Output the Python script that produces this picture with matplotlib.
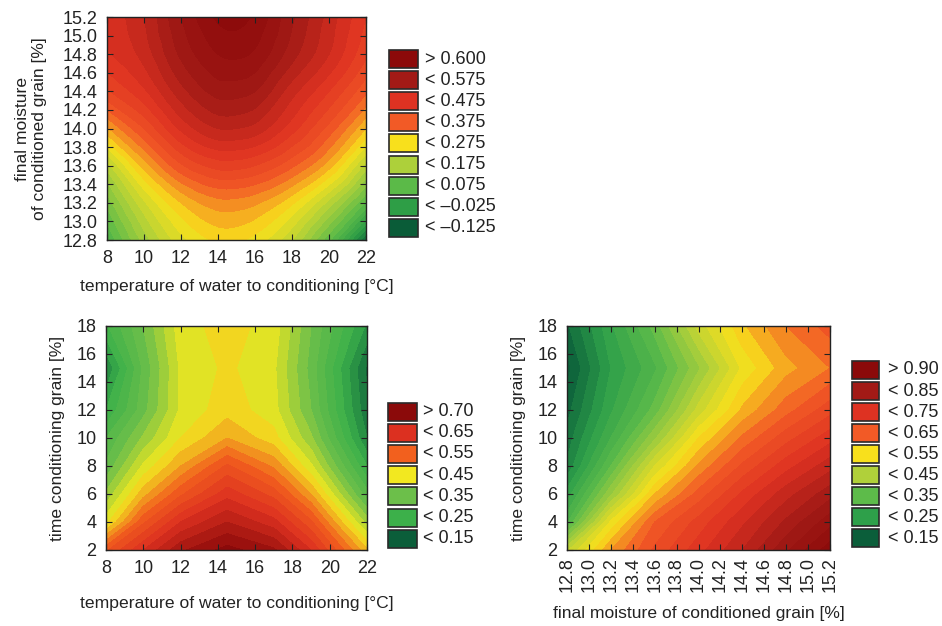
import matplotlib
matplotlib.use("Agg")
import matplotlib.pyplot as plt
import matplotlib.tri as mtri
import numpy as np
from matplotlib.colors import LinearSegmentedColormap, Normalize
from matplotlib.patches import Rectangle

plt.rcParams['font.family'] = ['Liberation Sans', 'DejaVu Sans']

# ---------------- data ----------------
# Plot 1: z(temperature, final moisture)
p1_temp = [8, 10, 12, 14, 15, 16, 18, 20, 22]
p1_moist = [12.8, 13.2, 13.6, 14.0, 14.4, 14.8, 15.2]
p1_z = [
    [0.00, 0.11, 0.19, 0.23, 0.23, 0.215, 0.15, 0.03, -0.15],
    [0.06, 0.17, 0.25, 0.29, 0.29, 0.28, 0.23, 0.14, 0.02],
    [0.14, 0.26, 0.345, 0.385, 0.385, 0.375, 0.33, 0.26, 0.14],
    [0.27, 0.35, 0.43, 0.475, 0.475, 0.465, 0.41, 0.34, 0.25],
    [0.37, 0.42, 0.49, 0.535, 0.535, 0.525, 0.46, 0.40, 0.33],
    [0.42, 0.46, 0.53, 0.575, 0.58, 0.57, 0.51, 0.45, 0.38],
    [0.43, 0.475, 0.55, 0.605, 0.61, 0.595, 0.53, 0.465, 0.40],
]
p1_labels = ["> 0.600", "< 0.575", "< 0.475", "< 0.375", "< 0.275",
             "< 0.175", "< 0.075", "< \u20130.025", "< \u20130.125"]
p1_colors = ["#8C0A0A", "#A21A16", "#DE3222", "#F25A26", "#F8E01C",
             "#ADD03A", "#5BBA48", "#2E9E46", "#0A5C38"]
p1_anchor = [0.62, 0.525, 0.425, 0.325, 0.225, 0.125, 0.025, -0.075, -0.175]

# Plot 2: z(temperature, time)
p2_temp = [8, 10, 12, 14.5, 17, 19, 22]
p2_time = [2, 4, 6, 8, 10, 12, 15, 18]
p2_z = [
    [0.52, 0.60, 0.67, 0.71, 0.68, 0.60, 0.43],
    [0.39, 0.52, 0.60, 0.65, 0.61, 0.53, 0.34],
    [0.33, 0.44, 0.52, 0.59, 0.54, 0.45, 0.26],
    [0.28, 0.38, 0.45, 0.53, 0.47, 0.38, 0.20],
    [0.25, 0.33, 0.40, 0.45, 0.41, 0.33, 0.15],
    [0.20, 0.29, 0.38, 0.415, 0.385, 0.30, 0.13],
    [0.15, 0.28, 0.38, 0.405, 0.38, 0.29, 0.12],
    [0.22, 0.30, 0.39, 0.41, 0.39, 0.30, 0.17],
]
p2_labels = ["> 0.70", "< 0.65", "< 0.55", "< 0.45", "< 0.35", "< 0.25", "< 0.15"]
p2_colors = ["#8B0A0A", "#DC3020", "#F2601E", "#F2E820", "#6CBF4A", "#3CB04A", "#0B5E3A"]
p2_anchor = [0.71, 0.60, 0.50, 0.40, 0.30, 0.20, 0.10]

# Plot 3: z(final moisture, time)
p3_moist = [12.8, 13.2, 13.6, 14.0, 14.4, 14.8, 15.2]
p3_time = [2, 4, 6, 8, 10, 12, 15, 18]
p3_z = [
    [0.42, 0.55, 0.63, 0.69, 0.75, 0.82, 0.89],
    [0.27, 0.48, 0.60, 0.66, 0.72, 0.78, 0.84],
    [0.21, 0.37, 0.525, 0.61, 0.68, 0.74, 0.79],
    [0.155, 0.30, 0.45, 0.555, 0.63, 0.69, 0.74],
    [0.135, 0.25, 0.37, 0.50, 0.58, 0.64, 0.69],
    [0.115, 0.22, 0.31, 0.435, 0.53, 0.59, 0.64],
    [0.09, 0.20, 0.27, 0.37, 0.48, 0.54, 0.575],
    [0.12, 0.22, 0.31, 0.435, 0.52, 0.575, 0.61],
]
p3_labels = ["> 0.90", "< 0.85", "< 0.75", "< 0.65", "< 0.55",
             "< 0.45", "< 0.35", "< 0.25", "< 0.15"]
p3_colors = ["#8B0A0A", "#A21A16", "#DE3222", "#F25A26", "#F8E01C",
             "#B0D03A", "#5DBB4A", "#2EA04A", "#0B5E3A"]
p3_anchor = [0.90, 0.80, 0.70, 0.60, 0.50, 0.40, 0.30, 0.20, 0.10]

# ---------------- figure ----------------
W, H = 942, 626
fig = plt.figure(figsize=(W / 100, H / 100), dpi=100)
TXT = '#222222'
FS_TICK = 13
FS_LAB = 12.6


def add_ax(l, r, t, b):
    return fig.add_axes([l / W, 1 - b / H, (r - l) / W, (b - t) / H])


def make_cmap(anchor, colors):
    vals = list(reversed(anchor))
    cols = list(reversed(colors))
    vmin, vmax = vals[0], vals[-1]
    pos = [(v - vmin) / (vmax - vmin) for v in vals]
    cmap = LinearSegmentedColormap.from_list("c", list(zip(pos, cols)))
    return cmap, Normalize(vmin, vmax)


def style(ax):
    ax.tick_params(direction='in', top=True, right=True, length=4, width=0.8,
                   labelsize=FS_TICK, colors=TXT)
    ax.tick_params(axis='x', pad=7)
    ax.tick_params(axis='y', pad=7)
    for s in ax.spines.values():
        s.set_linewidth(1.0)
        s.set_color(TXT)


def draw(ax, x, y, z, anchor, colors, step, smooth=False):
    cmap, norm = make_cmap(anchor, colors)
    z = np.array(z, dtype=float)
    lv = np.arange(np.floor(z.min() / step) * step - step, z.max() + 2 * step, step)
    if smooth:
        X, Y = np.meshgrid(x, y)
        tri = mtri.Triangulation(X.ravel(), Y.ravel())
        interp = mtri.CubicTriInterpolator(tri, z.ravel(), kind='geom')
        refiner = mtri.UniformTriRefiner(tri)
        tri_f, z_f = refiner.refine_field(z.ravel(), triinterpolator=interp, subdiv=4)
        ax.tricontourf(tri_f, z_f, levels=lv, cmap=cmap, norm=norm)
    else:
        ax.contourf(x, y, z, levels=lv, cmap=cmap, norm=norm)
    style(ax)


def legend(x0, yc0, dy, labels, colors, tx, bw=29, bh=18):
    for i, (lab, col) in enumerate(zip(labels, colors)):
        yc = yc0 + dy * i
        fig.patches.append(Rectangle((x0 / W, 1 - (yc + bh / 2) / H), bw / W, bh / H,
                                     transform=fig.transFigure, facecolor=col,
                                     edgecolor='#2a2a2a', linewidth=1.2))
        fig.text(tx / W, 1 - yc / H, lab, fontsize=FS_TICK, va='center', ha='left',
                 color=TXT)


# Plot 1
ax1 = add_ax(107, 366, 17, 240)
draw(ax1, p1_temp, p1_moist, p1_z, p1_anchor, p1_colors, 0.025, smooth=True)
ax1.set_xlim(8, 22)
ax1.set_ylim(12.8, 15.2)
ax1.set_xticks([8, 10, 12, 14, 16, 18, 20, 22])
yt1 = [12.8, 13.0, 13.2, 13.4, 13.6, 13.8, 14.0, 14.2, 14.4, 14.6, 14.8, 15.0, 15.2]
ax1.set_yticks(yt1)
ax1.set_yticklabels(["%.1f" % v for v in yt1])
ax1.set_xlabel("temperature of water to conditioning [\u00b0C]", fontsize=FS_LAB,
               color=TXT, labelpad=9)
ax1.set_ylabel("final moisture\nof conditioned grain [%]", fontsize=FS_LAB,
               color=TXT, labelpad=11, linespacing=1.2)
legend(389, 59, 21.1, p1_labels, p1_colors, 425)

# Plot 2
ax2 = add_ax(106, 367, 326, 550)
draw(ax2, p2_temp, p2_time, p2_z, p2_anchor, p2_colors, 0.025)
ax2.set_xlim(8, 22)
ax2.set_ylim(2, 18)
ax2.set_xticks([8, 10, 12, 14, 16, 18, 20, 22])
ax2.set_yticks([2, 4, 6, 8, 10, 12, 14, 16, 18])
ax2.set_xlabel("temperature of water to conditioning [\u00b0C]", fontsize=FS_LAB,
               color=TXT, labelpad=14)
ax2.set_ylabel("time conditioning grain [%]", fontsize=FS_LAB, color=TXT, labelpad=8)
legend(388, 411.5, 21.2, p2_labels, p2_colors, 423)

# Plot 3
ax3 = add_ax(567, 830, 326, 550)
draw(ax3, p3_moist, p3_time, p3_z, p3_anchor, p3_colors, 0.025)
ax3.set_xlim(12.8, 15.2)
ax3.set_ylim(2, 18)
xt = [12.8, 13.0, 13.2, 13.4, 13.6, 13.8, 14.0, 14.2, 14.4, 14.6, 14.8, 15.0, 15.2]
ax3.set_xticks(xt)
ax3.set_xticklabels(["%.1f" % v for v in xt], rotation=90)
ax3.set_yticks([2, 4, 6, 8, 10, 12, 14, 16, 18])
ax3.tick_params(axis='x', pad=5)
ax3.set_xlabel("final moisture of conditioned grain [%]", fontsize=FS_LAB,
               color=TXT, labelpad=10)
ax3.set_ylabel("time conditioning grain [%]", fontsize=FS_LAB, color=TXT, labelpad=8)
legend(852, 370, 21.06, p3_labels, p3_colors, 888, bw=27)

fig.savefig("out.png", dpi=100)
